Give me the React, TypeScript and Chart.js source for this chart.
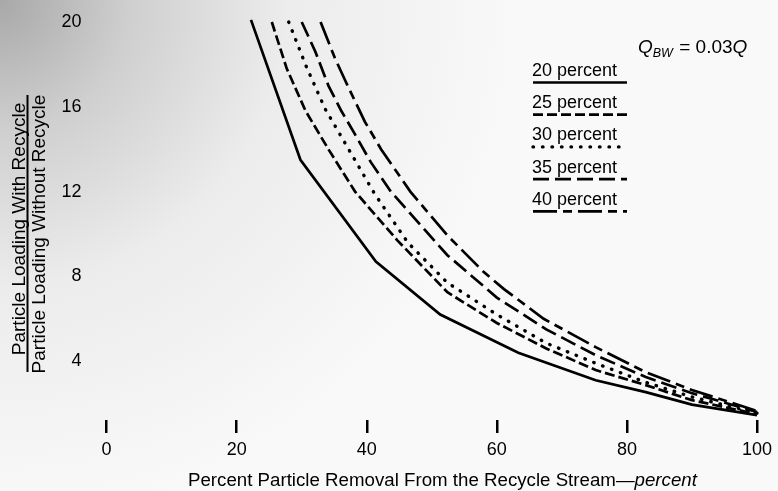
import React, { useEffect, useRef } from "react";
import { Chart, registerables } from "chart.js";

Chart.register(...registerables);

const FONT = "'Liberation Sans', Arial, Helvetica, sans-serif";

// x = percent particle removal from recycle stream, y = loading ratio
const removal20 = [22.2, 29.8, 41.4, 51.3, 63.3, 75.2, 82.9, 90, 100];
const ratio20 = [20.1, 13.5, 8.7, 6.2, 4.4, 3.1, 2.54, 1.95, 1.45];

const removal25 = [25.4, 27.7, 30.6, 34.1, 38.2, 44.7, 52.4, 60, 67.6, 75.2, 82.9, 90, 100];
const ratio25 = [20.0, 17.8, 15.8, 14.0, 12.0, 9.7, 7.25, 5.8, 4.6, 3.58, 2.87, 2.16, 1.5];

const removal30 = [28, 30.7, 33.6, 37.4, 41.2, 46.3, 52.4, 60, 67.6, 75.2, 82.9, 90, 100];
const ratio30 = [20.0, 17.9, 15.9, 13.9, 11.9, 9.6, 7.7, 6.2, 4.85, 3.9, 3.0, 2.31, 1.55];

const removal35 = [30, 32.1, 34.1, 36.1, 38.2, 40.6, 43.7, 48.9, 52.4, 60, 67.6, 75.2, 82.9, 90, 100];
const ratio35 = [20.0, 18.6, 17.0, 15.8, 14.7, 13.4, 12.0, 10.2, 9.0, 7.0, 5.5, 4.28, 3.25, 2.49, 1.6];

const removal40 = [32.9, 35.1, 37.2, 39.7, 42.2, 46.7, 52.4, 58, 61.1, 67.2, 75.2, 82.9, 90, 100];
const ratio40 = [20.0, 18.3, 16.9, 15.3, 14.0, 12.0, 9.93, 8.2, 7.4, 6.0, 4.66, 3.48, 2.64, 1.65];

const seriesLabels = ["20 percent", "25 percent", "30 percent", "35 percent", "40 percent"];
const xTicks = [0, 20, 40, 60, 80, 100];
const yTicks = [4, 8, 12, 16, 20];

const xTitleMain = "Percent Particle Removal From the Recycle Stream\u2014";
const xTitleItalic = "percent";
const yTitleTop = "Particle Loading With Recycle";
const yTitleBottom = "Particle Loading Without Recycle";

const styles = [
  { dash: [], width: 2.7, cap: "butt" },
  { dash: [10, 4], width: 2.7, cap: "butt" },
  { dash: [0.5, 9], width: 3.4, cap: "round" },
  { dash: [16, 6], width: 2.7, cap: "butt" },
  { dash: [24, 6, 9, 6], width: 2.7, cap: "butt" },
];

const toPts = (xs: number[], ys: number[]) => xs.map((x, i) => ({ x, y: ys[i] }));

const bgPlugin = {
  id: "bgTexture",
  beforeDraw(chart: any) {
    const { ctx, width, height } = chart;
    ctx.save();
    const g = ctx.createRadialGradient(0, 0, 0, 0, 0, 520);
    g.addColorStop(0, "#a8a8a8");
    g.addColorStop(0.25, "#cfcfcf");
    g.addColorStop(0.55, "#ececec");
    g.addColorStop(1, "#f9f9f9");
    ctx.fillStyle = g;
    ctx.fillRect(0, 0, width, height);
    ctx.restore();
  },
};

const textPlugin = {
  id: "textDecor",
  afterDraw(chart: any) {
    const { ctx } = chart;
    ctx.save();
    ctx.fillStyle = "#000";
    ctx.strokeStyle = "#000";

    // x title
    ctx.textBaseline = "alphabetic";
    ctx.textAlign = "left";
    ctx.font = `18.7px ${FONT}`;
    ctx.fillText(xTitleMain, 188, 486);
    const w = ctx.measureText(xTitleMain).width;
    ctx.font = `italic 18.7px ${FONT}`;
    ctx.fillText(xTitleItalic, 188 + w, 486);

    // y title (fraction)
    ctx.save();
    ctx.rotate(-Math.PI / 2);
    ctx.font = `19px ${FONT}`;
    ctx.textAlign = "center";
    ctx.textBaseline = "alphabetic";
    ctx.fillText(yTitleTop, -229, 25);
    ctx.fillText(yTitleBottom, -234, 45);
    ctx.restore();
    ctx.lineWidth = 2;
    ctx.beginPath();
    ctx.moveTo(27.5, 95);
    ctx.lineTo(27.5, 372);
    ctx.stroke();

    // Q_BW = 0.03Q
    let qx = 638;
    ctx.textAlign = "left";
    ctx.font = `italic 19px ${FONT}`;
    ctx.fillText("Q", qx, 53);
    qx += ctx.measureText("Q").width;
    ctx.font = `italic 12.5px ${FONT}`;
    ctx.fillText("BW", qx, 57);
    qx += ctx.measureText("BW").width + 1;
    ctx.font = `19px ${FONT}`;
    ctx.fillText(" = 0.03", qx, 53);
    qx += ctx.measureText(" = 0.03").width;
    ctx.font = `italic 19px ${FONT}`;
    ctx.fillText("Q", qx, 53);

    // legend entries
    seriesLabels.forEach((lab, i) => {
      const base = 76 + i * 32.2;
      ctx.font = `18px ${FONT}`;
      ctx.fillText(lab, 532, base);
      const st = styles[i];
      ctx.save();
      ctx.lineWidth = st.width;
      ctx.lineCap = st.cap as CanvasLineCap;
      ctx.setLineDash(st.dash);
      ctx.beginPath();
      ctx.moveTo(533, base + 6.5);
      ctx.lineTo(627, base + 6.5);
      ctx.stroke();
      ctx.restore();
    });
    ctx.restore();
  },
};

export default function App() {
  const ref = useRef<HTMLCanvasElement | null>(null);

  useEffect(() => {
    if (!ref.current) return;
    const yMin = (446 - 420) / 21.25;
    const allX = [removal20, removal25, removal30, removal35, removal40];
    const allY = [ratio20, ratio25, ratio30, ratio35, ratio40];
    const chart = new Chart(ref.current, {
      type: "line",
      data: {
        datasets: seriesLabels.map((lab, i) => ({
          label: lab,
          data: toPts(allX[i], allY[i]),
          borderColor: "#000",
          borderWidth: styles[i].width,
          borderDash: styles[i].dash,
          borderCapStyle: styles[i].cap as any,
          pointRadius: 0,
          tension: 0,
          fill: false,
          clip: 12,
        })),
      },
      options: {
        animation: false,
        responsive: false,
        devicePixelRatio: 1,
        layout: { padding: { left: 0, right: 15.5, top: 22, bottom: 0 } },
        plugins: {
          legend: { display: false },
          tooltip: { enabled: false },
          title: { display: false },
        },
        scales: {
          x: {
            type: "linear",
            min: 0,
            max: 100,
            position: "bottom",
            afterBuildTicks: (s: any) => {
              s.ticks = xTicks.map((v) => ({ value: v }));
            },
            afterFit: (s: any) => {
              s.height = 71;
            },
            ticks: {
              color: "#000",
              font: { family: FONT, size: 18 },
              padding: 6,
              maxRotation: 0,
              autoSkip: false,
            },
            grid: {
              drawOnChartArea: false,
              drawTicks: true,
              tickLength: 13,
              color: "#000",
              lineWidth: 2.5,
            },
            border: { display: false },
          },
          y: {
            type: "linear",
            min: yMin,
            max: 20,
            afterBuildTicks: (s: any) => {
              s.ticks = yTicks.map((v) => ({ value: v }));
            },
            afterFit: (s: any) => {
              s.width = 106.6;
            },
            ticks: {
              color: "#000",
              font: { family: FONT, size: 18 },
              padding: 5,
              callback: (v: any) => String(v) + "    ",
            },
            grid: { display: false, drawTicks: false },
            border: { display: false },
          },
        },
      },
      plugins: [bgPlugin, textPlugin],
    } as any);
    return () => chart.destroy();
  }, []);

  return (
    <div style={{ position: "fixed", left: 0, top: 0, width: 778, height: 491 }}>
      <canvas ref={ref} width={778} height={491} style={{ width: 778, height: 491, display: "block" }} />
    </div>
  );
}
